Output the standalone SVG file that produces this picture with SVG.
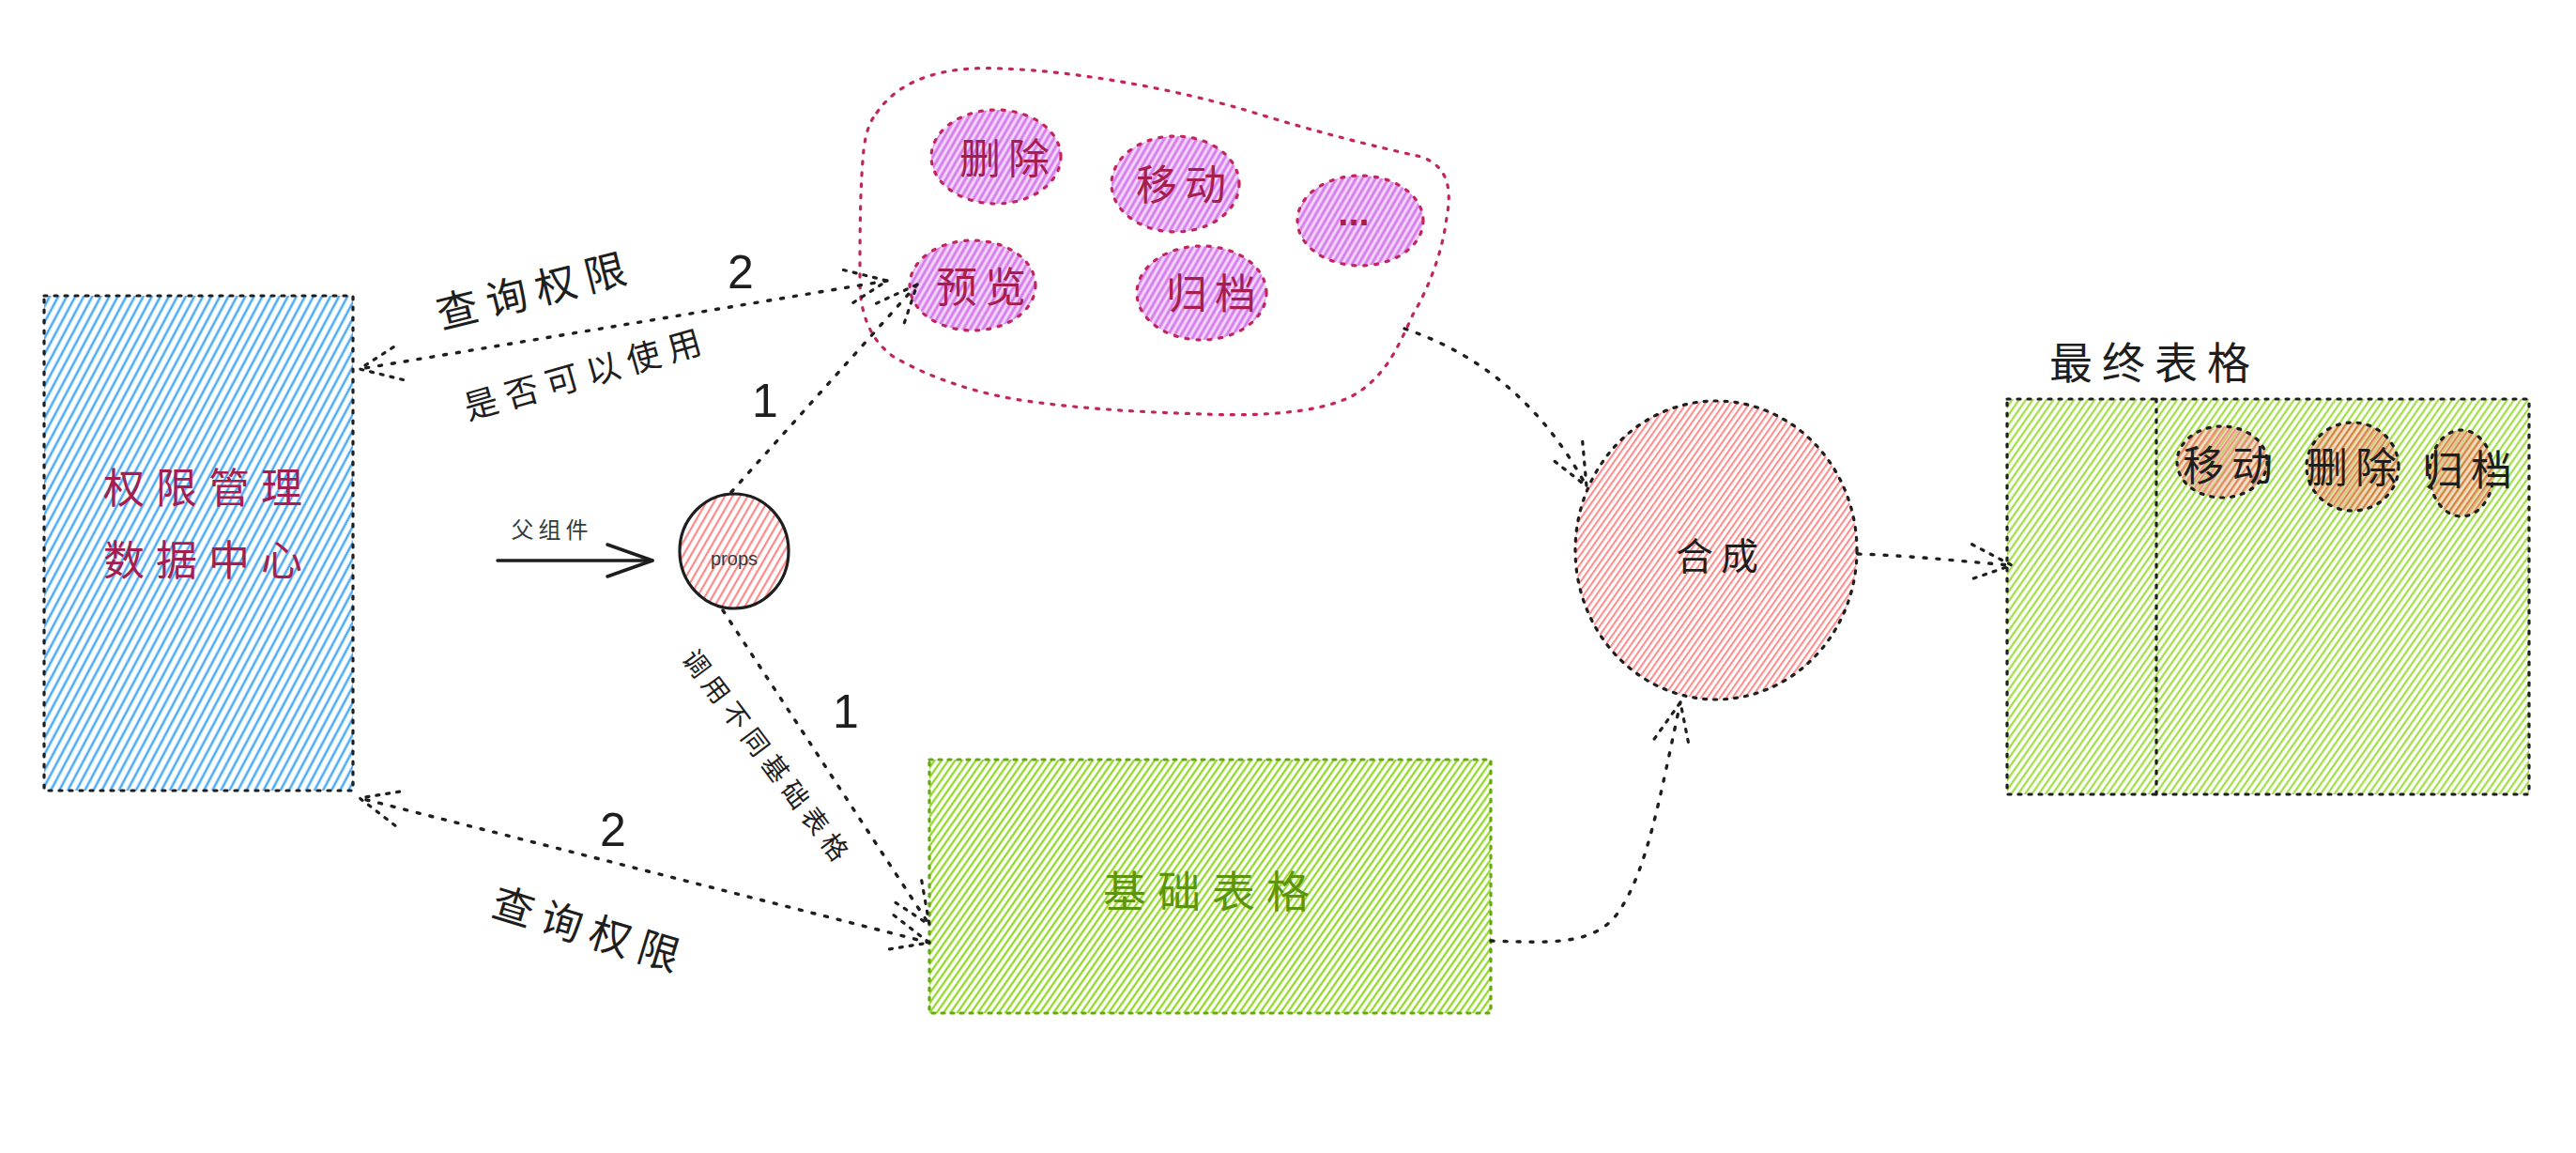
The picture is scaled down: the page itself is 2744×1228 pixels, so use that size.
<svg xmlns="http://www.w3.org/2000/svg" width="2744" height="1228" viewBox="0 0 2744 1228">
<defs>
  <pattern id="hBlue" patternUnits="userSpaceOnUse" width="8" height="8" patternTransform="rotate(28)">
    <line x1="3" y1="0" x2="3" y2="8" stroke="#4dabf7" stroke-width="2.6"/>
  </pattern>
  <pattern id="hGreen" patternUnits="userSpaceOnUse" width="6" height="6" patternTransform="rotate(35)">
    <line x1="2" y1="0" x2="2" y2="6" stroke="#94d82d" stroke-width="2.4"/>
  </pattern>
  <pattern id="hPink" patternUnits="userSpaceOnUse" width="5.5" height="5.5" patternTransform="rotate(35)">
    <line x1="2" y1="0" x2="2" y2="5.5" stroke="#ff8787" stroke-width="2"/>
  </pattern>
  <pattern id="hProps" patternUnits="userSpaceOnUse" width="7" height="7" patternTransform="rotate(30)">
    <line x1="2" y1="0" x2="2" y2="7" stroke="#ff8787" stroke-width="2.2"/>
  </pattern>
  <pattern id="hPurple" patternUnits="userSpaceOnUse" width="6" height="6" patternTransform="rotate(30)">
    <rect width="6" height="6" fill="#f3d9fa"/>
    <line x1="2" y1="0" x2="2" y2="6" stroke="#cc5de8" stroke-width="3" stroke-opacity="0.75"/>
  </pattern>
  <pattern id="hOrange" patternUnits="userSpaceOnUse" width="5.5" height="5.5" patternTransform="rotate(35)">
    <rect width="5.5" height="5.5" fill="#e9c8a0" fill-opacity="0.6"/>
    <line x1="2" y1="0" x2="2" y2="5.5" stroke="#d9480f" stroke-width="2.2" stroke-opacity="0.6"/>
  </pattern>
  <pattern id="hPinkDeep" patternUnits="userSpaceOnUse" width="5.5" height="5.5" patternTransform="rotate(35)">
    <rect width="5.5" height="5.5" fill="#e7c09a" fill-opacity="0.45"/>
    <line x1="2" y1="0" x2="2" y2="5.5" stroke="#fa5252" stroke-width="2.2" stroke-opacity="0.6"/>
  </pattern>
  <marker id="ah" markerUnits="userSpaceOnUse" markerWidth="70" markerHeight="70" viewBox="-55 -35 70 70" refX="0" refY="0" orient="auto-start-reverse" overflow="visible">
    <path d="M-44,-19 L0,0 L-44,19" fill="none" stroke="#1e1e1e" stroke-width="3.2" stroke-dasharray="3 8" stroke-linecap="round"/>
  </marker>
  <marker id="ahSolid" markerUnits="userSpaceOnUse" markerWidth="70" markerHeight="70" viewBox="-55 -35 70 70" refX="0" refY="0" orient="auto" overflow="visible">
    <path d="M-48,-17 L0,0 L-48,17" fill="none" stroke="#1e1e1e" stroke-width="3.5" stroke-linecap="round" stroke-linejoin="round"/>
  </marker>
</defs>
<style>
  .dotK { fill: none; stroke: #1e1e1e; stroke-width: 3.2; stroke-dasharray: 3 8; stroke-linecap: round; }
  .dotKf { stroke: #1e1e1e; stroke-width: 3.2; stroke-dasharray: 3 8; stroke-linecap: round; }
  .dotR { stroke: #c2255c; stroke-width: 3.2; stroke-dasharray: 3 9; stroke-linecap: round; }
  .dotG { stroke: #66a80f; stroke-width: 3.2; stroke-dasharray: 3 7; stroke-linecap: round; }
  .conn { fill: none; stroke: #1e1e1e; stroke-width: 3.4; stroke-dasharray: 3 11; stroke-linecap: round; }
  .cjk { font-family: "Noto Sans CJK SC", "Noto Sans", sans-serif; text-anchor: middle; dominant-baseline: central; }
  .red { fill: #a61e4d; }
  .blk { fill: #1e1e1e; }
  .num { font-family: "Liberation Sans", "Noto Sans", sans-serif; text-anchor: middle; dominant-baseline: central; fill: #1e1e1e; }
</style>
<rect width="2744" height="1228" fill="#ffffff"/>

<g id="perm-center">
  <rect x="47" y="315" width="329" height="527" fill="url(#hBlue)"/>
  <rect x="47" y="315" width="329" height="527" class="dotK"/>
  <text class="cjk red" x="222" y="517" font-size="44" letter-spacing="12">权限管理</text>
  <text class="cjk red" x="222" y="594" font-size="44" letter-spacing="12">数据中心</text>
</g>

<g id="action-cloud">
  <path d="M934,120 C960,82 1010,70 1067,73 C1150,76 1250,95 1326,117 C1400,140 1460,155 1514,167 C1545,178 1546,205 1541,232 C1536,272 1520,310 1505,335 C1490,368 1476,402 1440,422 C1400,442 1330,443 1282,441 C1220,439 1160,436 1100,428 C1040,420 990,402 952,380 C926,362 916,332 916,300 C916,250 916,200 920,160 C922,142 926,130 934,120 Z" fill="none" class="dotR"/>
  <g id="act-delete">
    <ellipse cx="1061" cy="167" rx="69" ry="50" fill="url(#hPurple)" class="dotR"/>
    <text class="cjk red" x="1074" y="166" font-size="44" letter-spacing="8">删除</text>
  </g>
  <g id="act-move">
    <ellipse cx="1252" cy="196" rx="68" ry="51" fill="url(#hPurple)" class="dotR"/>
    <text class="cjk red" x="1262" y="194" font-size="44" letter-spacing="8">移动</text>
  </g>
  <g id="act-more">
    <ellipse cx="1449" cy="235" rx="67" ry="48" fill="url(#hPurple)" class="dotR"/>
    <text x="1442" y="240" font-family="Liberation Sans, sans-serif" font-size="40" font-weight="bold" text-anchor="middle" fill="#a61e4d">...</text>
  </g>
  <g id="act-preview">
    <ellipse cx="1036" cy="304" rx="67" ry="48" fill="url(#hPurple)" class="dotR"/>
    <text class="cjk red" x="1049" y="303" font-size="44" letter-spacing="8">预览</text>
  </g>
  <g id="act-archive">
    <ellipse cx="1280" cy="312" rx="69" ry="50" fill="url(#hPurple)" class="dotR"/>
    <text class="cjk red" x="1294" y="310" font-size="44" letter-spacing="8">归档</text>
  </g>
</g>

<g id="props">
  <ellipse cx="782" cy="587" rx="58" ry="61" fill="url(#hProps)" stroke="#1e1e1e" stroke-width="3.2"/>
  <text x="782" y="595" font-family="Liberation Sans, sans-serif" font-size="20" text-anchor="middle" dominant-baseline="central" fill="#343a40">props</text>
</g>

<g id="base-table">
  <rect x="990" y="809" width="598" height="270" fill="url(#hGreen)"/>
  <rect x="990" y="809" width="598" height="270" fill="none" class="dotG"/>
  <text class="cjk" x="1291" y="946" font-size="46" letter-spacing="12" fill="#5c940d">基础表格</text>
</g>

<g id="compose">
  <ellipse cx="1828" cy="586" rx="150" ry="159" fill="url(#hPink)"/>
  <ellipse cx="1828" cy="586" rx="150" ry="159" class="dotK"/>
  <text class="cjk blk" x="1833" y="590" font-size="40" letter-spacing="8">合成</text>
</g>

<g id="final-table">
  <text class="cjk blk" x="2295" y="383" font-size="46" letter-spacing="10">最终表格</text>
  <rect x="2138" y="425" width="556" height="421" fill="url(#hGreen)" fill-opacity="0.85"/>
  <rect x="2138" y="425" width="556" height="421" class="dotK"/>
  <line x1="2297" y1="425" x2="2297" y2="846" class="dotK"/>
  <g id="final-move">
    <ellipse cx="2367" cy="492" rx="48" ry="38" fill="url(#hPinkDeep)" class="dotKf"/>
    <text class="cjk blk" x="2377" y="493" font-size="44" letter-spacing="8">移动</text>
  </g>
  <g id="final-delete">
    <ellipse cx="2506" cy="497" rx="49" ry="47" fill="url(#hOrange)" class="dotKf"/>
    <text class="cjk blk" x="2509" y="495" font-size="44" letter-spacing="8">删除</text>
  </g>
  <g id="final-archive">
    <ellipse cx="2622" cy="504" rx="34" ry="46" fill="url(#hOrange)" class="dotKf"/>
    <text class="cjk blk" x="2632" y="498" font-size="44" letter-spacing="8">归档</text>
  </g>
</g>

<g id="connectors">
  <path d="M945,299 L383,393" class="conn" marker-start="url(#ah)" marker-end="url(#ah)"/>
  <path d="M990,1004 L383,850" class="conn" marker-start="url(#ah)" marker-end="url(#ah)"/>
  <path d="M779,524 L977,303" class="conn" marker-end="url(#ah)"/>
  <path d="M770,650 L990,985" class="conn" marker-end="url(#ah)"/>
  <path d="M1496,350 C1580,378 1645,435 1690,518" class="conn" marker-end="url(#ah)"/>
  <path d="M1588,1002 C1650,1004 1700,1008 1725,970 C1755,925 1768,850 1790,748" class="conn" marker-end="url(#ah)"/>
  <path d="M1979,590 C2040,592 2090,598 2143,602" class="conn" marker-end="url(#ah)"/>
  <path d="M530,597 L695,597" fill="none" stroke="#1e1e1e" stroke-width="3.5" stroke-linecap="round" marker-end="url(#ahSolid)"/>

  <text class="cjk blk" transform="translate(570,306) rotate(-14)" font-size="44" letter-spacing="10">查询权限</text>
  <text class="num" x="789" y="290" font-size="50">2</text>
  <text class="cjk blk" transform="translate(624,395) rotate(-16)" font-size="36" letter-spacing="9">是否可以使用</text>
  <text class="num" x="815" y="427" font-size="50">1</text>
  <text class="cjk" x="588" y="562" font-size="24" letter-spacing="5" fill="#343a40">父组件</text>
  <text class="cjk blk" transform="translate(819,806) rotate(53)" font-size="28" letter-spacing="7">调用不同基础表格</text>
  <text class="num" x="901" y="758" font-size="50">1</text>
  <text class="num" x="653" y="884" font-size="50">2</text>
  <text class="cjk blk" transform="translate(630,988) rotate(17)" font-size="44" letter-spacing="10">查询权限</text>
</g>
</svg>
